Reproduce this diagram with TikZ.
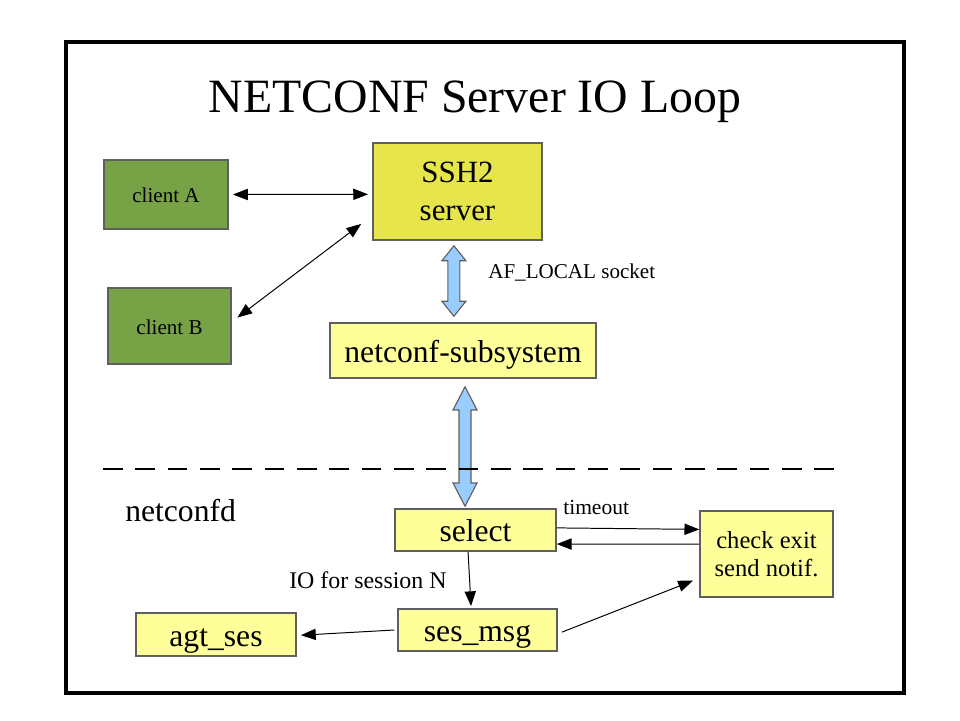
\documentclass[tikz,border=0pt]{standalone}
\usepackage{fontspec}
\setmainfont{Liberation Serif}
\usetikzlibrary{arrows.meta,calc}
\definecolor{ClientGreen}{RGB}{119,163,70}
\definecolor{ServerYellow}{RGB}{230,230,76}
\definecolor{PaleYellow}{RGB}{255,255,153}
\definecolor{PipeBlue}{RGB}{153,204,255}
\definecolor{BoxEdge}{RGB}{95,95,95}

\tikzset{
  box/.style={draw=BoxEdge,line width=1.1pt,inner sep=0pt,align=center},
  clientbox/.style={box,fill=ClientGreen,font=\fontsize{15}{18}\selectfont,
    text height=14pt,text depth=2pt},
  procbox/.style={box,fill=PaleYellow,font=\fontsize{22.5}{26}\selectfont,
    text height=21pt,text depth=4.5pt},
  note/.style={anchor=west,inner sep=0pt},
  link/.style={line width=0.7pt,-{Triangle[length=10.5pt,width=8pt]}},
  duplex/.style={link,{Triangle[length=10.5pt,width=8pt]}-{Triangle[length=10.5pt,width=8pt]}},
  pipe/.style={fill=PipeBlue,draw=BoxEdge,line width=0.8pt,line join=miter}
}

% vertical fat double arrow, #1 = head length
\newcommand{\fatarrow}[3][0.4]{%
  \path (#2) coordinate (faTop) (#3) coordinate (faBot);
  \draw[pipe] let \p1=(faTop), \p2=(faBot) in
    (\x1,\y1) -- ({\x1+0.3cm},{\y1-#1cm}) -- ({\x1+0.15cm},{\y1-#1cm})
    -- ({\x1+0.15cm},{\y2+#1cm}) -- ({\x1+0.3cm},{\y2+#1cm}) -- (\x1,\y2)
    -- ({\x1-0.3cm},{\y2+#1cm}) -- ({\x1-0.15cm},{\y2+#1cm})
    -- ({\x1-0.15cm},{\y1-#1cm}) -- ({\x1-0.3cm},{\y1-#1cm}) -- cycle;
}

\begin{document}
\begin{tikzpicture}
  \useasboundingbox (0,0) rectangle (24,18);
  \draw[line width=3.5pt] (1.65,0.675) rectangle (22.6,16.95);
  \node[font=\fontsize{34}{40}\selectfont,anchor=base] (title) at (11.875,15.175)
    {NETCONF Server IO Loop};

  % clients and ssh side
  \node[clientbox,minimum width=3.1cm,minimum height=1.725cm] (clientA) at (4.15,13.1375) {client A};
  \node[clientbox,minimum width=3.075cm,minimum height=1.9cm] (clientB) at (4.2375,9.85) {client B};
  \node[box,fill=ServerYellow,font=\fontsize{22}{27}\selectfont,
        minimum width=4.225cm,minimum height=2.425cm] (ssh) at (11.4375,13.2125) {SSH2\\server};
  \node[procbox,minimum width=6.65cm,minimum height=1.375cm] (subsys) at (11.575,9.2375) {netconf-subsystem};

  % netconfd side
  \node[procbox,minimum width=4.025cm,minimum height=1.05cm] (select) at (11.8875,4.75) {select};
  \node[box,fill=PaleYellow,font=\fontsize{17.5}{20}\selectfont,
        minimum width=3.325cm,minimum height=2.15cm] (check) at (19.1625,4.15) {check exit\\send notif.};
  \node[procbox,minimum width=3.975cm,minimum height=1.05cm] (sesmsg) at (11.9375,2.25) {ses\_msg};
  \node[procbox,minimum width=4.0cm,minimum height=1.075cm] (agtses) at (5.4,2.1375) {agt\_ses};

  \node[note,font=\fontsize{22.5}{26}\selectfont] (netconfd) at (3.125,5.225) {netconfd};
  \node[note,font=\fontsize{15}{18}\selectfont] (afsock) at (12.2,11.175) {AF\_LOCAL socket};
  \node[note,font=\fontsize{15.3}{18}\selectfont] (tmo) at (14.075,5.325) {timeout};
  \node[note,font=\fontsize{17}{20}\selectfont] (ioses) at (7.225,3.5) {IO for session N};

  % connectors
  \draw[duplex] ([xshift=3pt]clientA.east) -- ([xshift=-3pt,yshift=-2pt]ssh.west);
  \draw[duplex] ([xshift=4pt,yshift=6pt]clientB.east) -- ($(ssh.west)+(-0.275,-0.81)$);
  \fatarrow[0.375]{$(ssh.south)+(-0.09,-0.125)$}{$(subsys.north)+(-0.22,0.15)$}
  \fatarrow[0.58]{$(subsys.south)+(0.05,-0.2)$}{$(select.north)+(-0.26,0.05)$}
  \draw[line width=1.4pt,dash pattern=on 14pt off 9pt] (2.575,6.275) -- (21.0,6.275);

  \draw[link] ([yshift=1.5pt]select.east) -- ([yshift=17.5pt]check.west);
  \draw[link] ([yshift=7pt]check.west) -- ([yshift=-10pt]select.east);
  \draw[link] ([xshift=-5.3pt]select.south) -- ([xshift=-4.6pt,yshift=1.5pt]sesmsg.north);
  \draw[link] ([xshift=-2pt]sesmsg.west) -- ([xshift=3pt,yshift=-0.5pt]agtses.east);
  \draw[link] ([xshift=3pt,yshift=-1.5pt]sesmsg.east) -- ([xshift=-4.5pt,yshift=-19pt]check.west);
\end{tikzpicture}
\end{document}
